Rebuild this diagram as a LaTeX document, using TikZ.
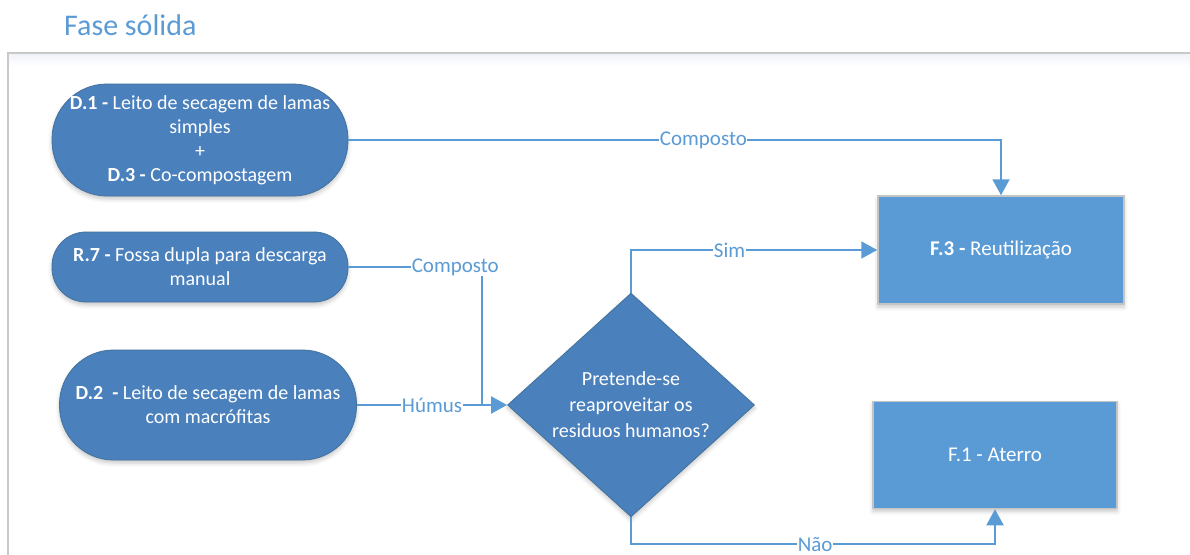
\documentclass[tikz,border=0pt]{standalone}
\usepackage{fontspec}
\setmainfont{Carlito}
\usetikzlibrary{arrows.meta,shapes.geometric,shadows.blur}
\definecolor{lineblue}{RGB}{91,155,213}
\definecolor{termblue}{RGB}{74,128,188}
\definecolor{termedge}{RGB}{65,113,156}
\definecolor{framegray}{RGB}{200,200,200}
\definecolor{boxedge}{RGB}{196,196,196}
\definecolor{haze}{RGB}{240,243,248}

\begin{document}
\begin{tikzpicture}[x=1pt,y=-1pt,
  txt/.style={font=\fontsize{20}{24}\selectfont},
  soft/.style={blur shadow={shadow xshift=0pt,shadow yshift=-3pt,shadow blur radius=4pt,shadow opacity=22}},
  terminal/.style={txt,soft,draw=termedge,line width=0.8pt,fill=termblue,text=white,align=center,inner sep=0pt},
  decision/.style={terminal,diamond,font=\fontsize{20}{26}\selectfont},
  process/.style={soft,font=\fontsize{21}{24}\selectfont,draw=boxedge,line width=1.5pt,fill=lineblue,text=white,align=center,inner sep=0pt},
  conn/.style={draw=lineblue,line width=2pt},
  arr/.style={conn,-{Triangle[length=16pt,width=17pt]}},
  lbl/.style={font=\fontsize{21}{24}\selectfont,text=lineblue,fill=white,inner sep=0.5pt}
]
\useasboundingbox (0,0) rectangle (1190,554);

% page frame with faint band under its top edge
\begin{scope}
  \clip (0,0) rectangle (1190,554);
  \shade[top color=haze,bottom color=white] (9,54) rectangle (1190,66);
  \draw[framegray,line width=2pt] (8,53) rectangle (1230,600);
\end{scope}

\node[anchor=base west,inner sep=0pt,text=lineblue,font=\fontsize{30}{36}\selectfont] (title) at (64,35) {Fase sólida};

% source technologies
\node[terminal,minimum width=296pt,minimum height=112pt,rounded corners=55pt] (d1) at (200,140)
  {\textbf{D.1 -} Leito de secagem de lamas\\simples\\+\\\textbf{D.3 -} Co-compostagem};
\node[terminal,minimum width=296pt,minimum height=70pt,rounded corners=34pt] (r7) at (200,267)
  {\textbf{R.7 -} Fossa dupla para descarga\\manual};
\node[terminal,minimum width=297pt,minimum height=110pt,rounded corners=54pt] (d2) at (208,405)
  {\textbf{D.2\ \ -} Leito de secagem de lamas\\com macrófitas};

% decision
\node[decision,minimum width=247pt,minimum height=210pt] (dia) at (631,405)
  {Pretende-se\\reaproveitar os\\residuos humanos?};

% end uses
\node[process,minimum width=246pt,minimum height=108pt] (f3) at (1001,250) {\textbf{F.3 -} Reutilização};
\node[process,minimum width=244pt,minimum height=107pt] (f1) at (995,455) {F.1 - Aterro};

\coordinate (join) at (482,405);

% connectors
\draw[arr] (d1.east) -| node[lbl,pos=0.272] {Composto} (f3.north);
\draw[conn] (r7.east) -| node[lbl,pos=0.4] {Composto} (join);
\draw[arr] (d2.east) -- node[lbl] {Húmus} (dia.west);
\draw[arr] (dia.north) |- node[lbl,pos=0.7] {Sim} (f3.west);
\draw[arr] (dia.south) -- ++(0,27) -| node[lbl,pos=0.253] {Não} (f1.south);
\end{tikzpicture}
\end{document}
